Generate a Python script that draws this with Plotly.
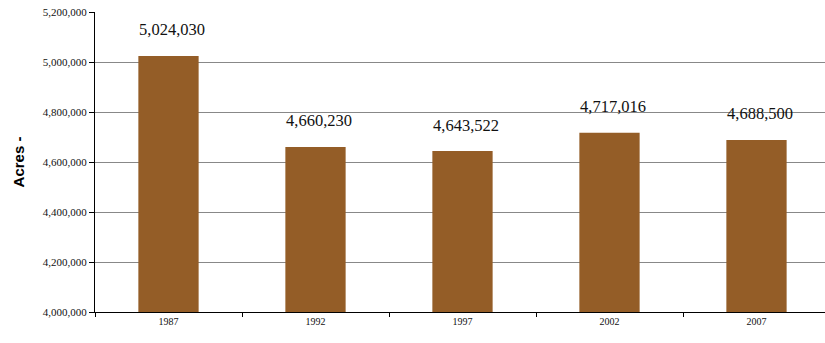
import plotly.graph_objects as go

years = ["1987", "1992", "1997", "2002", "2007"]
acres = [5024030, 4660230, 4643522, 4717016, 4688500]
labels = ["5,024,030", "4,660,230", "4,643,522", "4,717,016", "4,688,500"]
ytick_vals = [4000000, 4200000, 4400000, 4600000, 4800000, 5000000, 5200000]

fig = go.Figure()
fig.add_trace(go.Bar(x=years, y=acres, marker=dict(color="#945D27", line=dict(width=0)),
                     width=0.41, hoverinfo="skip"))

for i, (v, t) in enumerate(zip(acres, labels)):
    fig.add_annotation(x=i, y=v, xref="x", yref="y", text=t, showarrow=False, yshift=26, xshift=3,
                       font=dict(family="Liberation Serif", size=16.5, color="#111"))

fig.update_layout(
    width=825, height=343,
    margin=dict(l=95, r=0, t=12, b=31),
    plot_bgcolor="white", paper_bgcolor="white",
    showlegend=False,
    yaxis=dict(range=[4000000, 5200000], tickvals=ytick_vals, tickformat=",d",
               ticks="outside", ticklen=5, tickcolor="#000",
               showline=True, linecolor="#000", linewidth=1,
               gridcolor="#888", gridwidth=1,
               tickfont=dict(family="Liberation Serif", size=11, color="#111"),
               title=dict(text="<b>Acres -</b>", standoff=14,
                          font=dict(family="Liberation Sans", size=15, color="#000"))),
    xaxis=dict(type="category", range=[-0.5, 4.466], ticks="outside", tickson="boundaries", ticklen=4,
               tickcolor="#000", showline=True, linecolor="#000", linewidth=1,
               tickfont=dict(family="Liberation Serif", size=10, color="#111")),
)

fig.write_html("out.html")
